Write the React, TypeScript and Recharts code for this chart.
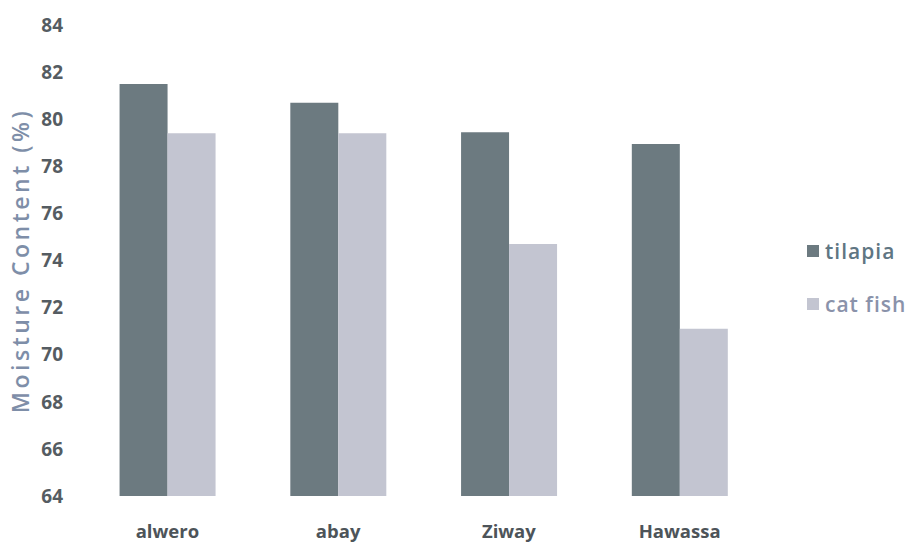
import React from 'react';
import { BarChart, Bar, XAxis, YAxis } from 'recharts';

const sites = ['alwero', 'abay', 'Ziway', 'Hawassa'];
const tilapia = [81.5, 80.7, 79.45, 78.95];
const catFish = [79.4, 79.4, 74.7, 71.1];
const yTicks = [64, 66, 68, 70, 72, 74, 76, 78, 80, 82, 84];

const data = sites.map((site, i) => ({
  site,
  tilapia: tilapia[i],
  catFish: catFish[i],
}));

const FONT = '"Open Sans", "Liberation Sans", sans-serif';
const TILAPIA = '#6c7a80';
const CATFISH = '#c3c5d1';

// legend drawn as plain html so it takes no room from the plot
const LegendBox = () => (
  <div style={{ position: 'absolute', left: 807, top: 238, fontFamily: FONT, fontSize: 21, fontWeight: 600 }}>
    <div style={{ display: 'flex', alignItems: 'center', height: 26, color: '#5f7683', letterSpacing: 1 }}>
      <span style={{ width: 12, height: 12, background: TILAPIA, marginRight: 6, display: 'inline-block' }} />
      tilapia
    </div>
    <div style={{ display: 'flex', alignItems: 'center', height: 26, marginTop: 27, color: '#8a92aa', letterSpacing: 1 }}>
      <span style={{ width: 12, height: 12, background: CATFISH, marginRight: 6, display: 'inline-block' }} />
      cat fish
    </div>
  </div>
);

const App: React.FC = () => {
  return (
    <div style={{ position: 'absolute', left: 0, top: 0, width: 909, height: 546, background: '#fff' }}>
      <BarChart
        width={909}
        height={546}
        data={data}
        margin={{ top: 25, right: 144, bottom: 20, left: 0 }}
        barCategoryGap="22%"
        barGap={0}
      >
        <XAxis
          dataKey="site"
          height={30}
          axisLine={false}
          tickLine={false}
          tickSize={0}
          tickMargin={29}
          tick={{ fill: '#4d5459', fontSize: 18.5, fontWeight: 700, fontFamily: FONT }}
        />
        <YAxis
          width={82}
          domain={[64, 84]}
          ticks={yTicks}
          interval={0}
          axisLine={false}
          tickLine={false}
          tickSize={0}
          tickMargin={19}
          tick={{ fill: '#555c62', fontSize: 19, fontWeight: 700, fontFamily: FONT }}
          label={{
            value: 'Moisture Content (%)',
            angle: -90,
            position: 'insideLeft',
            offset: 21,
            style: {
              fill: '#7e8ea8',
              fontSize: 23,
              fontWeight: 600,
              letterSpacing: 3.5,
              fontFamily: FONT,
              textAnchor: 'middle',
            },
          }}
        />
        <Bar dataKey="tilapia" name="tilapia" fill={TILAPIA} isAnimationActive={false} />
        <Bar dataKey="catFish" name="cat fish" fill={CATFISH} isAnimationActive={false} />
      </BarChart>
      <LegendBox />
    </div>
  );
};

export default App;
